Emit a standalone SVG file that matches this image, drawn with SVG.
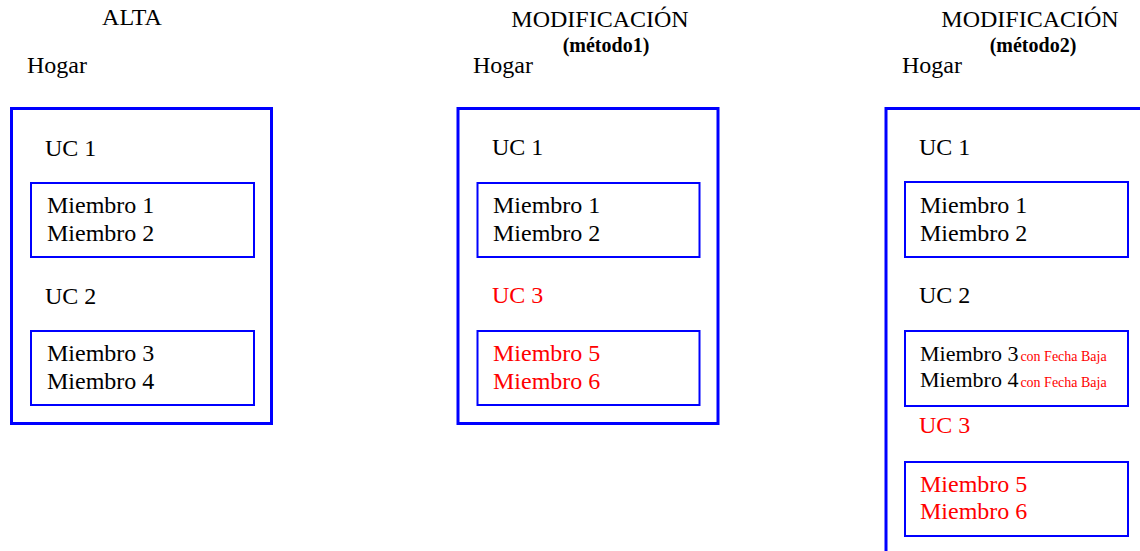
<svg xmlns="http://www.w3.org/2000/svg" width="1140" height="551" viewBox="0 0 1140 551">
<style>
text{font-family:"Liberation Serif","Times New Roman",serif;font-size:24px;fill:#000}
.title{text-anchor:middle}
.sub{font-size:20px;font-weight:bold;text-anchor:middle}
.red{fill:#ff0000}
.small{font-size:14px;fill:#ff0000}
.outer{fill:none;stroke:#0000ff;stroke-width:3}
.inner{fill:none;stroke:#0000ff;stroke-width:2}
</style>
<rect width="1140" height="551" fill="#fff"/>
<g id="alta">
<text class="title" x="132" y="25">ALTA</text>
<text x="27" y="73">Hogar</text>
<rect class="outer" x="11.5" y="108.5" width="260" height="315"/>
<text x="45" y="156">UC 1</text>
<g id="alta-uc1"><rect class="inner" x="31" y="183" width="223" height="74"/>
<text x="47" y="213">Miembro 1</text><text x="47" y="241">Miembro 2</text></g>
<text x="45" y="304">UC 2</text>
<g id="alta-uc2"><rect class="inner" x="31" y="331" width="223" height="74"/>
<text x="47" y="361">Miembro 3</text><text x="47" y="389">Miembro 4</text></g>
</g>
<g id="mod1">
<text class="title" x="600" y="27">MODIFICACIÓN</text>
<text class="sub" x="606" y="52">(método1)</text>
<text x="473" y="73">Hogar</text>
<rect class="outer" x="458" y="108.5" width="260" height="315"/>
<text x="492" y="155">UC 1</text>
<g id="mod1-uc1"><rect class="inner" x="477.5" y="183" width="222" height="74"/>
<text x="493" y="213">Miembro 1</text><text x="493" y="241">Miembro 2</text></g>
<text class="red" x="492" y="303">UC 3</text>
<g id="mod1-uc3"><rect class="inner" x="477.5" y="331" width="222" height="74"/>
<text class="red" x="493" y="361">Miembro 5</text><text class="red" x="493" y="389">Miembro 6</text></g>
</g>
<g id="mod2">
<text class="title" x="1030" y="27">MODIFICACIÓN</text>
<text class="sub" x="1033" y="52">(método2)</text>
<text x="902" y="73">Hogar</text>
<rect class="outer" x="886" y="108.5" width="300" height="500"/>
<text x="919" y="155">UC 1</text>
<g id="mod2-uc1"><rect class="inner" x="905" y="182" width="223" height="75"/>
<text x="920" y="213">Miembro 1</text><text x="920" y="241">Miembro 2</text></g>
<text x="919" y="303">UC 2</text>
<g id="mod2-uc2"><rect class="inner" x="905" y="331" width="223" height="75"/>
<text x="920" y="361" style="font-size:22px">Miembro 3<tspan class="small" dx="2">con Fecha Baja</tspan></text>
<text x="920" y="387" style="font-size:22px">Miembro 4<tspan class="small" dx="2">con Fecha Baja</tspan></text></g>
<text class="red" x="919" y="433">UC 3</text>
<g id="mod2-uc3"><rect class="inner" x="905" y="462" width="223" height="74"/>
<text class="red" x="920" y="492">Miembro 5</text><text class="red" x="920" y="519">Miembro 6</text></g>
</g>
<g id="connectors"/>
</svg>
